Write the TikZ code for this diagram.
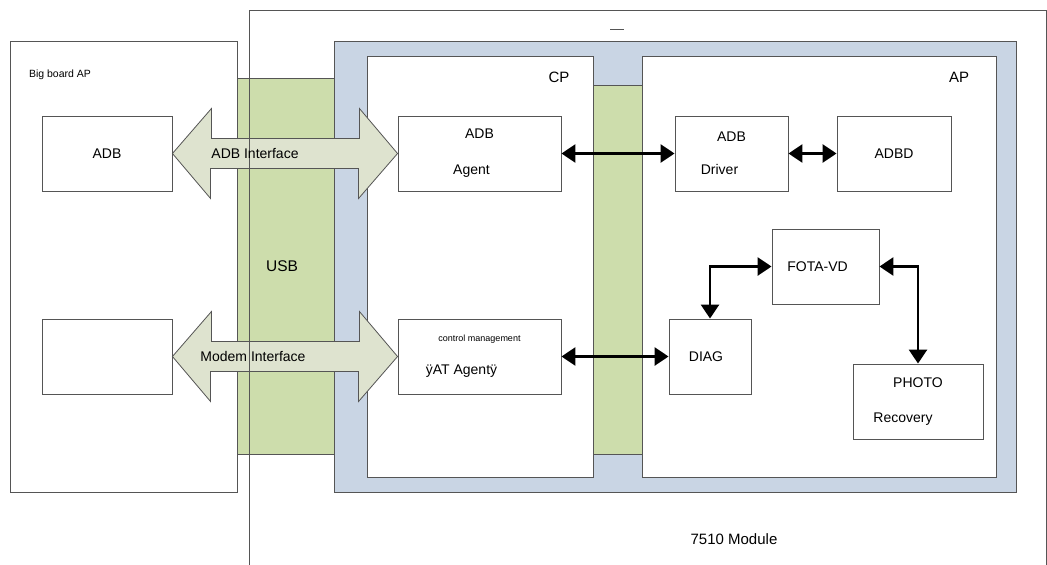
\documentclass[tikz,border=0pt]{standalone}
\usepackage{fontspec}
\setmainfont{Liberation Sans}
\usetikzlibrary{arrows.meta}
\definecolor{lineg}{RGB}{85,85,85}
\definecolor{frameblue}{RGB}{201,213,228}
\definecolor{usbgreen}{RGB}{205,221,172}
\definecolor{pipefill}{RGB}{222,227,207}
\tikzset{
  box/.style={draw=lineg, fill=white, line width=0.9pt, minimum height=75pt, inner sep=0pt, font=\fontsize{14}{16}\selectfont, align=center},
  conn/.style={line width=2.8pt, {Triangle[length=14pt,width=18pt]}-{Triangle[length=14pt,width=18pt]}},
  pipe/.style={draw=lineg, fill=pipefill, line width=0.8pt, line join=miter},
  lbl/.style={font=\fontsize{14}{16}\selectfont, inner sep=0pt}
}
\begin{document}
\begin{tikzpicture}[x=1pt,y=-1pt]
\useasboundingbox[fill=white] (0,0) rectangle (1047,565);

% big board AP
\draw[draw=lineg, fill=white, line width=0.9pt] (10,41) rectangle (237,492);
% module frame
\draw[draw=lineg, fill=frameblue, line width=0.9pt] (334,41) rectangle (1016,492);
\draw[draw=lineg, fill=white, line width=0.9pt] (367,56) rectangle (593,477);
\draw[draw=lineg, fill=white, line width=0.9pt] (642,56) rectangle (996,477);
% USB strips
\draw[draw=lineg, fill=usbgreen, line width=0.8pt] (237,78) rectangle (334,454);
\draw[draw=lineg, fill=usbgreen, line width=0.8pt] (593,85) rectangle (642,454);

\node[box, minimum width=130pt] (bbadb) at (107,153.5) {ADB};
\node[box, minimum width=130pt] (bbmodem) at (107,356.5) {};
\node[box, minimum width=163pt] (agent) at (479.5,153.5) {ADB\\[20pt]\hspace*{-16pt}Agent};
\node[box, minimum width=163pt] (ctrl) at (479.5,356.5) {{\fontsize{9}{10}\selectfont control management}\\[17pt]\hspace*{-36pt}ÿAT Agentÿ};
\node[box, minimum width=113pt] (driver) at (731.5,153.5) {ADB\\[17pt]\hspace*{-24pt}Driver};
\node[box, minimum width=114pt] (adbd) at (894,153.5) {ADBD};
\node[box, minimum width=107pt] (fota) at (825.5,266.5) {\hspace*{-16pt}FOTA-VD};
\node[box, minimum width=82pt] (diag) at (710,356.5) {\hspace*{-8pt}DIAG};
\node[box, minimum width=130pt] (photo) at (918,401.5) {PHOTO\\[19pt]\hspace*{-30pt}Recovery};

% interface pipes
\draw[pipe] (bbadb.east) -- ++(39,-45) -- ++(0,30) -- ++(148,0) -- ++(0,-30)
  -- (agent.west) -- ++(-39,45) -- ++(0,-30) -- ++(-148,0) -- ++(0,30) -- cycle;
\draw[pipe] (bbmodem.east) -- ++(39,-45) -- ++(0,30) -- ++(148,0) -- ++(0,-30)
  -- (ctrl.west) -- ++(-39,45) -- ++(0,-30) -- ++(-148,0) -- ++(0,30) -- cycle;

% module outline
\draw[draw=lineg, line width=0.9pt] (249,600) -- (249,10) -- (1046,10) -- (1046,600);
\draw[draw=lineg, line width=0.5pt] (610,29) -- (624,29);

\node[lbl] (adbif) at (255,153) {ADB Interface};
\node[lbl] (modemif) at (253,356) {Modem Interface};
\node[lbl, font=\fontsize{15.5}{18}\selectfont] (usb) at (282,266) {USB};
\node[lbl, font=\fontsize{10.5}{12}\selectfont] (bigap) at (60,75) {Big board AP};
\node[lbl, font=\fontsize{15}{18}\selectfont] (cp) at (559,77) {CP};
\node[lbl, font=\fontsize{15}{18}\selectfont] (ap) at (959,77) {AP};
\node[lbl, font=\fontsize{15}{18}\selectfont] (module) at (734,539) {7510 Module};

% links
\draw[conn] (agent.east) -- (driver.west);
\draw[conn] (driver.east) -- (adbd.west);
\draw[conn] (ctrl.east) -- (diag.west);
\draw[conn] (diag.north) |- (fota.west);
\draw[conn] (fota.east) -| (photo.north);
\end{tikzpicture}
\end{document}
